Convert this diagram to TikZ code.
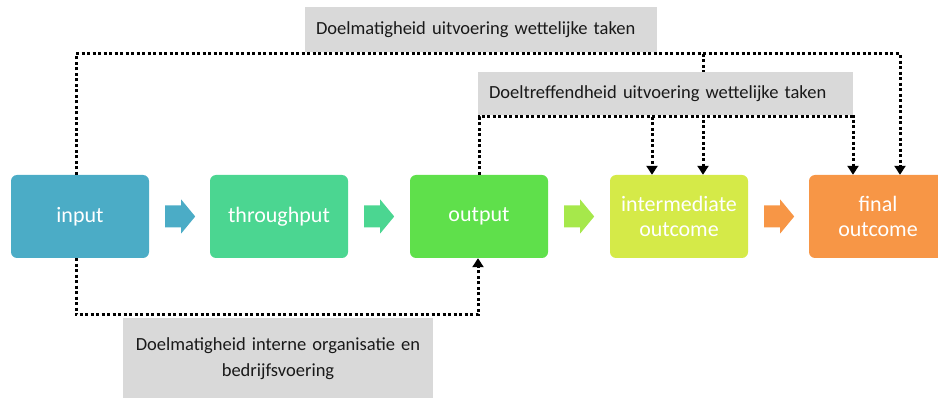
\documentclass[tikz,border=0pt]{standalone}
\usepackage{fontspec}
\setmainfont{Carlito}
\usetikzlibrary{arrows.meta,calc}

\definecolor{inputblue}{HTML}{4BACC6}
\definecolor{throughgreen}{HTML}{4BD691}
\definecolor{outputgreen}{HTML}{5FE04B}
\definecolor{interlime}{HTML}{D5EA48}
\definecolor{flowlime}{HTML}{A6E84B}
\definecolor{finalorange}{HTML}{F79646}
\definecolor{labelgray}{HTML}{D9D9D9}

\tikzstyle{stage} = [rounded corners=6pt, minimum width=138pt, minimum height=83pt, inner sep=0pt, text=white, align=center, font=\fontsize{22}{25}\selectfont]
\tikzstyle{label} = [fill=labelgray, inner sep=0pt, text=black!90, font=\fontsize{18.5}{26}\selectfont]
\tikzstyle{link} = [line width=3pt, dash pattern=on 3pt off 2.5pt, -{Triangle[width=11pt,length=9pt]}]

\begin{document}
\begin{tikzpicture}[x=1pt,y=-1pt]
      \useasboundingbox (0,0) rectangle (938,398);
      \clip (0,0) rectangle (938,398);
      \node[stage, fill=inputblue] (input) at (80,216.5) {input};
      \node[stage, fill=throughgreen] (throughput) at (279,216.5) {throughput};
      \node[stage, fill=outputgreen] (output) at (479,216.5) {output};
      \node[stage, fill=interlime] (intermediate) at (679,216.5) {intermediate\\outcome};
      \node[stage, fill=finalorange] (final) at (878,216.5) {final\\outcome};
      % block arrows between the stages
      \foreach \from/\col in {input/inputblue, throughput/throughgreen, output/flowlime, intermediate/finalorange}
        \fill[\col] ($(\from.east)+(16,-11)$) -- ++(16,0) -- ++(0,-6) -- ++(14,17) -- ++(-14,17) -- ++(0,-6) -- ++(-16,0) -- cycle;
      \coordinate (topbar) at (900,54);
      \coordinate (topjoin) at (703,54);
      \coordinate (midbar) at (853,117);
      \coordinate (midjoin) at (652,117);
      \coordinate (botbar) at (478,315);
      \draw[link] ([xshift=-4pt]input.north) |- (topbar) -- (final.north -| topbar);
      \draw[link] (topjoin) -- (intermediate.north -| topjoin);
      \draw[link] (output.north) |- (midbar) -- (final.north -| midbar);
      \draw[link] (midjoin) -- (intermediate.north -| midjoin);
      \draw[link] ([xshift=-4pt]input.south) |- (botbar) -- (output.south -| botbar);
      \node[label, minimum width=352pt, minimum height=45pt, text width=330pt, align=left] (doelmatig) at (481,29.5) {Doelmatigheid uitvoering wettelijke taken};
      \node[label, minimum width=375pt, minimum height=43pt, text width=353pt, align=left] (doeltref) at (665.5,93.5) {Doeltreffendheid uitvoering wettelijke taken};
      \node[label, minimum width=310pt, minimum height=82pt, text width=310pt, align=center] (intern) at (278,359) {Doelmatigheid interne organisatie en\\bedrijfsvoering};
    \end{tikzpicture}
\end{document}
